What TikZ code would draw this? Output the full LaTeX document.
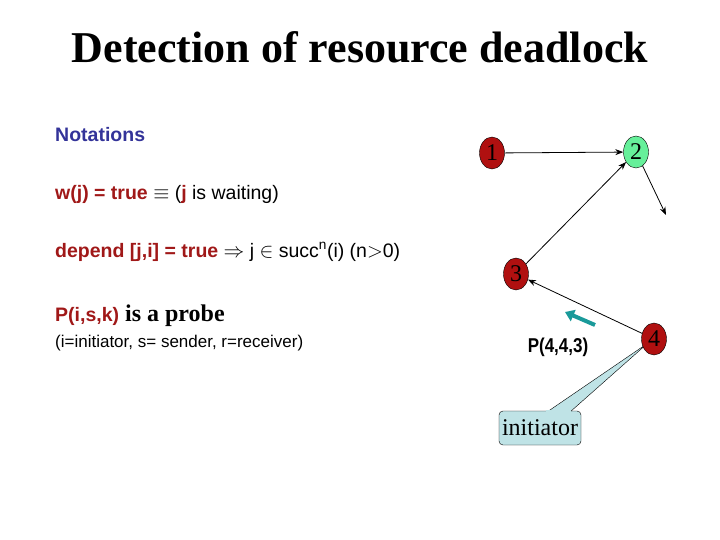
\documentclass[tikz,border=0pt]{standalone}
\usepackage{amssymb}
\usepackage{fontspec}
\setmainfont{Liberation Serif}
\setsansfont{Liberation Sans}
\usetikzlibrary{arrows.meta,positioning,shapes.geometric}
\definecolor{notationblue}{HTML}{333399}
\definecolor{termred}{HTML}{A01818}
\definecolor{procred}{HTML}{B01010}
\definecolor{activegreen}{HTML}{66F09A}
\definecolor{probeteal}{HTML}{1A9A9A}
\definecolor{calloutfill}{HTML}{BFE3E6}

\tikzset{
    proc/.style={ellipse, draw=black, fill=procred, inner sep=0pt, minimum width=25pt, minimum height=32pt, font=\fontsize{24}{24}\selectfont},
    edge/.style={-{Stealth[length=8pt,width=6pt]}, thick},
    line/.style={font=\sffamily\fontsize{19.5}{22}\selectfont, anchor=base west, inner sep=0pt}
}

\begin{document}
\begin{tikzpicture}[x=1pt, y=-1pt]
    \useasboundingbox (0,0) rectangle (720,540);
    % Title
    \node[font=\bfseries\fontsize{44}{48}\selectfont] (title) at (360,47) {Detection of resource deadlock};

    % Notations
    \node[line, font=\sffamily\bfseries\fontsize{19.5}{22}\selectfont, color=notationblue] (notations) at (55,142) {Notations};
    \node[line] (waiting) at (55,200) {\textcolor{termred}{\bfseries w(j) = true} $\equiv$ (\textcolor{termred}{\bfseries j} is waiting)};
    \node[line] (depend) at (55,257) {\textcolor{termred}{\bfseries depend [j,i] = true} $\Rightarrow$ j $\in$ succ\textsuperscript{n}(i) (n$>$0)};
    \node[line, font=\fontsize{24}{26}\selectfont\bfseries] (probe) at (55,321) {\textcolor{termred}{\sffamily\fontsize{19.5}{22}\selectfont P(i,s,k)} is a probe};
    \node[line, font=\sffamily\fontsize{17}{19}\selectfont] (roles) at (55,347) {(i=initiator, s= sender, r=receiver)};

    % Callout
    \node[draw=black, fill=calloutfill, rounded corners=4pt, inner sep=2pt, minimum width=82pt, minimum height=34pt, font=\fontsize{24}{26}\selectfont] (initiator) at (540,428) {initiator};
    \coordinate (tip) at (648,343);
    \fill[calloutfill, draw=black] (547,412) -- (tip) -- (570,412);
    \fill[calloutfill] (546,410) rectangle (571,414);

    % Processes
    \node[proc] (p1) at (492,153) {1};
    \node[proc, fill=activegreen] (p2) at (636,152) {2};
    \node[proc] (p3) at (516,274) {3};
    \node[proc] (p4) at (654,339) {4};
    \coordinate (out) at (666,215);

    \draw[edge] (p1) -- (p2);
    \draw[edge] (p2) -- (out);
    \draw[edge] (p3) -- (p2);
    \draw[edge] (p4) -- (p3);

    % Probe
    \coordinate (probefrom) at (595,325);
    \coordinate (probeto) at (565,312);
    \draw[-{Triangle[length=9pt,width=12pt]}, line width=4pt, probeteal] (probefrom) -- (probeto);
    \node[font=\sffamily\bfseries\fontsize{20}{22}\selectfont, xscale=0.85] (label) at (558,347) {P(4,4,3)};
\end{tikzpicture}
\end{document}
